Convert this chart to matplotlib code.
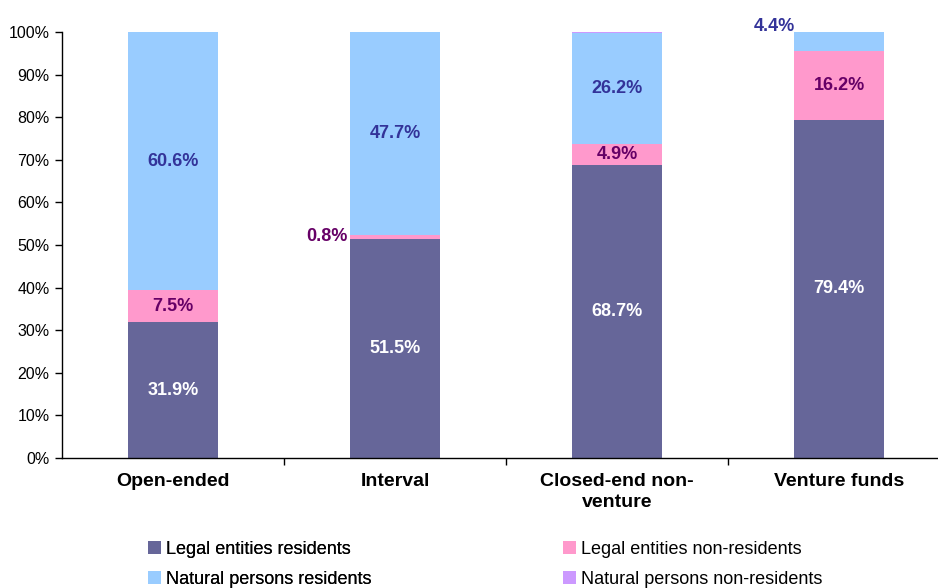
import matplotlib.pyplot as plt
import numpy as np
from matplotlib.patches import Patch

# Data
categories = ["Open-ended", "Interval", "Closed-end non-\nventure", "Venture funds"]
legal_res = [31.9, 51.5, 68.7, 79.4]
legal_nonres = [7.5, 0.8, 4.9, 16.2]
natural_res = [60.6, 47.7, 26.2, 4.4]
natural_nonres = [0.0, 0.0, 0.2, 0.0]

series_names = ["Legal entities residents", "Legal entities non-residents",
                "Natural persons residents", "Natural persons non-residents"]
colors = ["#666699", "#FF99CC", "#99CCFF", "#CC99FF"]
label_colors = ["white", "#660066", "#333399", None]

plt.rcParams['font.family'] = ['Liberation Sans', 'DejaVu Sans']

fig = plt.figure(figsize=(9.38, 5.88), dpi=100)
W, H = 938, 588
ax = fig.add_axes([62 / W, (588 - 458) / H, (950 - 62) / W, (458 - 32) / H])

x = np.arange(len(categories))
width = 0.406
lab_fs = 13
series = [legal_res, legal_nonres, natural_res, natural_nonres]
bottom = np.zeros(len(categories))
for vals, col, lcol in zip(series, colors, label_colors):
    vals = np.array(vals)
    ax.bar(x, vals, width, bottom=bottom, color=col, edgecolor='none')
    if lcol is not None:
        for i, v in enumerate(vals):
            if v <= 0:
                continue
            yc = bottom[i] + v / 2
            if v < 2:
                # thin segment: label to the left of the bar
                ax.text(x[i] - width / 2 - 0.01, yc, f"{v:.1f}%", ha='right', va='center',
                        color=lcol, fontsize=lab_fs, fontweight='bold')
            elif v < 5 and bottom[i] + v >= 99.9:
                # thin top segment: label above-left
                ax.text(x[i] - 0.293, 101.2, f"{v:.1f}%", ha='center', va='center',
                        color=lcol, fontsize=lab_fs, fontweight='bold', clip_on=False)
            else:
                ax.text(x[i], yc, f"{v:.1f}%", ha='center', va='center',
                        color=lcol, fontsize=lab_fs, fontweight='bold')
    bottom += vals

ax.set_xlim(-0.5, 3.5)
ax.set_ylim(0, 100)
ax.set_yticks(np.arange(0, 101, 10))
ax.set_yticklabels([f"{t}%" for t in range(0, 101, 10)], fontsize=11.5)
ax.set_xticks([0.5, 1.5, 2.5])
ax.set_xticklabels([])
ax.set_xticks(x, minor=True)
ax.set_xticklabels(categories, minor=True, fontsize=14, fontweight='bold', linespacing=1.3)
ax.tick_params(axis='x', which='minor', length=0, pad=11)
ax.tick_params(axis='x', which='major', length=5, direction='out', width=1)
ax.tick_params(axis='y', length=5, direction='out', width=1, pad=4)
for s in ['top', 'right']:
    ax.spines[s].set_visible(False)
for s in ['left', 'bottom']:
    ax.spines[s].set_linewidth(1)
    ax.spines[s].set_color('black')

# Legend in two separate columns, like the original layout
handles = [Patch(facecolor=c, edgecolor='none') for c in colors]
leg_kw = dict(frameon=False, fontsize=13, handlelength=0.7, handleheight=0.7,
              handletextpad=0.3, labelspacing=0.72, borderpad=0, borderaxespad=0,
              loc='upper left')
leg1 = fig.legend([handles[0], handles[2]], [series_names[0], series_names[2]],
                  bbox_to_anchor=(148 / W, 1 - 541 / H), **leg_kw)
fig.add_artist(leg1)
fig.legend([handles[1], handles[3]], [series_names[1], series_names[3]],
           bbox_to_anchor=(563 / W, 1 - 541 / H), **leg_kw)

fig.savefig("out.png", dpi=100)
